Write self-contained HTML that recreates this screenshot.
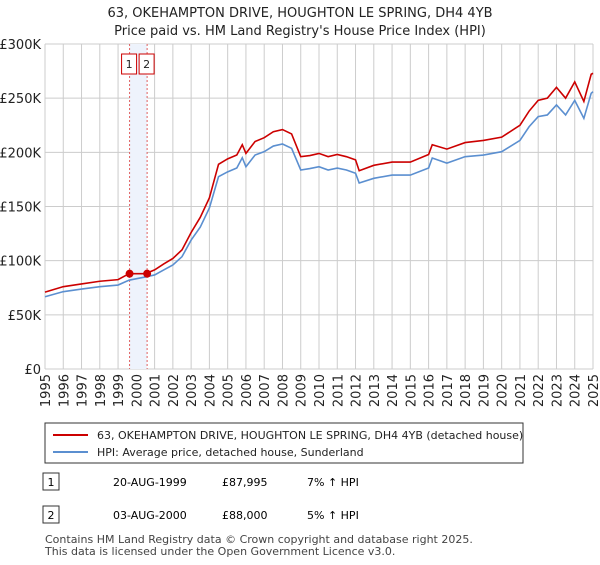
<!DOCTYPE html>
<html><head><meta charset="utf-8"><style>
body{margin:0;background:#fff;font-family:"Liberation Sans","DejaVu Sans",sans-serif;}
svg text{font-family:"DejaVu Sans","Liberation Sans",sans-serif;}
</style></head><body>
<svg id="c" width="600" height="560" xmlns="http://www.w3.org/2000/svg">
<text x="300" y="17" text-anchor="middle" font-size="13" fill="#222">63, OKEHAMPTON DRIVE, HOUGHTON LE SPRING, DH4 4YB</text>
<text x="300" y="35" text-anchor="middle" font-size="13" fill="#222">Price paid vs. HM Land Registry's House Price Index (HPI)</text>
<g id="grid"></g><g id="marks"></g><g id="axes"></g>
<rect x="45" y="423" width="478" height="40" fill="#fff" stroke="#333"/>
<line x1="53" y1="435" x2="88" y2="435" stroke="#cc0000" stroke-width="2"/>
<text x="97" y="439" font-size="11" fill="#222">63, OKEHAMPTON DRIVE, HOUGHTON LE SPRING, DH4 4YB (detached house)</text>
<line x1="53" y1="452" x2="88" y2="452" stroke="#5b8fd0" stroke-width="2"/>
<text x="97" y="456" font-size="11" fill="#222">HPI: Average price, detached house, Sunderland</text>
<rect x="43" y="473" width="16" height="17" fill="#fff" stroke="#333"/>
<text x="51" y="486" text-anchor="middle" font-size="11">1</text>
<text x="113" y="486" font-size="11">20-AUG-1999</text>
<text x="222" y="486" font-size="11">£87,995</text>
<text x="307" y="486" font-size="11">7% ↑ HPI</text>
<rect x="43" y="506" width="16" height="17" fill="#fff" stroke="#333"/>
<text x="51" y="519" text-anchor="middle" font-size="11">2</text>
<text x="113" y="519" font-size="11">03-AUG-2000</text>
<text x="222" y="519" font-size="11">£88,000</text>
<text x="307" y="519" font-size="11">5% ↑ HPI</text>
<text x="45" y="543" font-size="11" fill="#444">Contains HM Land Registry data © Crown copyright and database right 2025.</text>
<text x="45" y="555" font-size="11" fill="#444">This data is licensed under the Open Government Licence v3.0.</text>
</svg>
<script>
const years=[1995,1996,1997,1998,1999,1999.6,2000.5,2001,2001.5,2002,2002.5,2003,2003.5,2004,2004.5,2005,2005.5,2005.8,2006,2006.5,2007,2007.5,2008,2008.5,2009,2009.5,2010,2010.5,2011,2011.5,2012,2012.2,2013,2014,2015,2016,2016.2,2017,2018,2019,2020,2021,2021.5,2022,2022.5,2023,2023.5,2024,2024.5,2024.9,2025];
const hpi=[66.7,71.4,73.8,76,77.5,82,85,86.8,91.4,96,103.7,119,131,148.6,177.5,182,185.5,195,186.7,197.5,200.6,205.8,207.7,203.7,183.7,185,186.7,183.7,185.5,183.7,180.7,171.7,176,179,179,185.5,194.8,190,196,197.5,200.6,211,223.6,233,234.5,243.7,234.5,248,231.4,254.5,256];
const price=[71,76,78.5,81,82.5,88,88,91.5,97,102,110,126,140,158,189,194,197.5,207,199,210,213.5,219,221,217,196,197,199,196,198,196,193,183,188,191,191,198,207,203,209,211,214,225,238,248,250,260,250,265,247,272,273];
const saleYears=[1999.63,2000.59];
const saleValues=[88.0,88.0];
const yTicks=[0,50,100,150,200,250,300];
const yLabels=["£0","£50K","£100K","£150K","£200K","£250K","£300K"];
const xTicks=[1995,1996,1997,1998,1999,2000,2001,2002,2003,2004,2005,2006,2007,2008,2009,2010,2011,2012,2013,2014,2015,2016,2017,2018,2019,2020,2021,2022,2023,2024,2025];
const X0=45,X1=593,Y0=369,Y1=44;
const sx=v=>X0+(v-1995)/30*(X1-X0);
const sy=v=>Y0-v/300*(Y0-Y1);
const NS="http://www.w3.org/2000/svg";
function mk(p,t,a){const e=document.createElementNS(NS,t);for(const k in a)e.setAttribute(k,a[k]);p.appendChild(e);return e;}
const grid=document.getElementById('grid'),marks=document.getElementById('marks'),axes=document.getElementById('axes');
yTicks.forEach((t,i)=>{const l=mk(grid,'line',{x1:X0,x2:X1,y1:sy(t),y2:sy(t),stroke:'#ccc'});


const tx=mk(axes,'text',{x:X0-4,y:sy(t)+5,'text-anchor':'end','font-size':'13',fill:'#222'});tx.textContent=yLabels[i];

});
xTicks.forEach(t=>{const l=mk(grid,'line',{x1:sx(t),x2:sx(t),y1:Y1,y2:Y0,stroke:'#ccc'});


const x=sx(t)+5,y=Y0+5;
const tx=mk(axes,'text',{x:x,y:y,'text-anchor':'end','font-size':'13',fill:'#222',transform:'rotate(-90 '+x+' '+y+')'});tx.textContent=t;

});
const sh=mk(marks,'rect',{x:sx(saleYears[0]),y:Y1,width:sx(saleYears[1])-sx(saleYears[0]),height:Y0-Y1,fill:'#eef3fc'});


saleYears.forEach((s,i)=>{const l=mk(marks,'line',{x1:sx(s),x2:sx(s),y1:Y1,y2:Y0,stroke:'#e06060','stroke-dasharray':'2,2'});


const b=mk(marks,'rect',{x:sx(s)-8,y:54,width:15,height:20,fill:'#fff',stroke:'#cc0000'});


const t=mk(marks,'text',{x:sx(s)-0.5,y:68,'text-anchor':'middle','font-size':'11',fill:'#222'});t.textContent=String(i+1);

});
const hl=mk(marks,'polyline',{points:years.map((y,i)=>sx(y)+','+sy(hpi[i])).join(' '),fill:'none',stroke:'#5b8fd0','stroke-width':1.6});


const pl=mk(marks,'polyline',{points:years.map((y,i)=>sx(y)+','+sy(price[i])).join(' '),fill:'none',stroke:'#cc0000','stroke-width':1.6});


saleYears.forEach((s,i)=>{const c=mk(marks,'circle',{cx:sx(s),cy:sy(saleValues[i]),r:4,fill:'#cc0000'});

});
</script>
</body></html>
